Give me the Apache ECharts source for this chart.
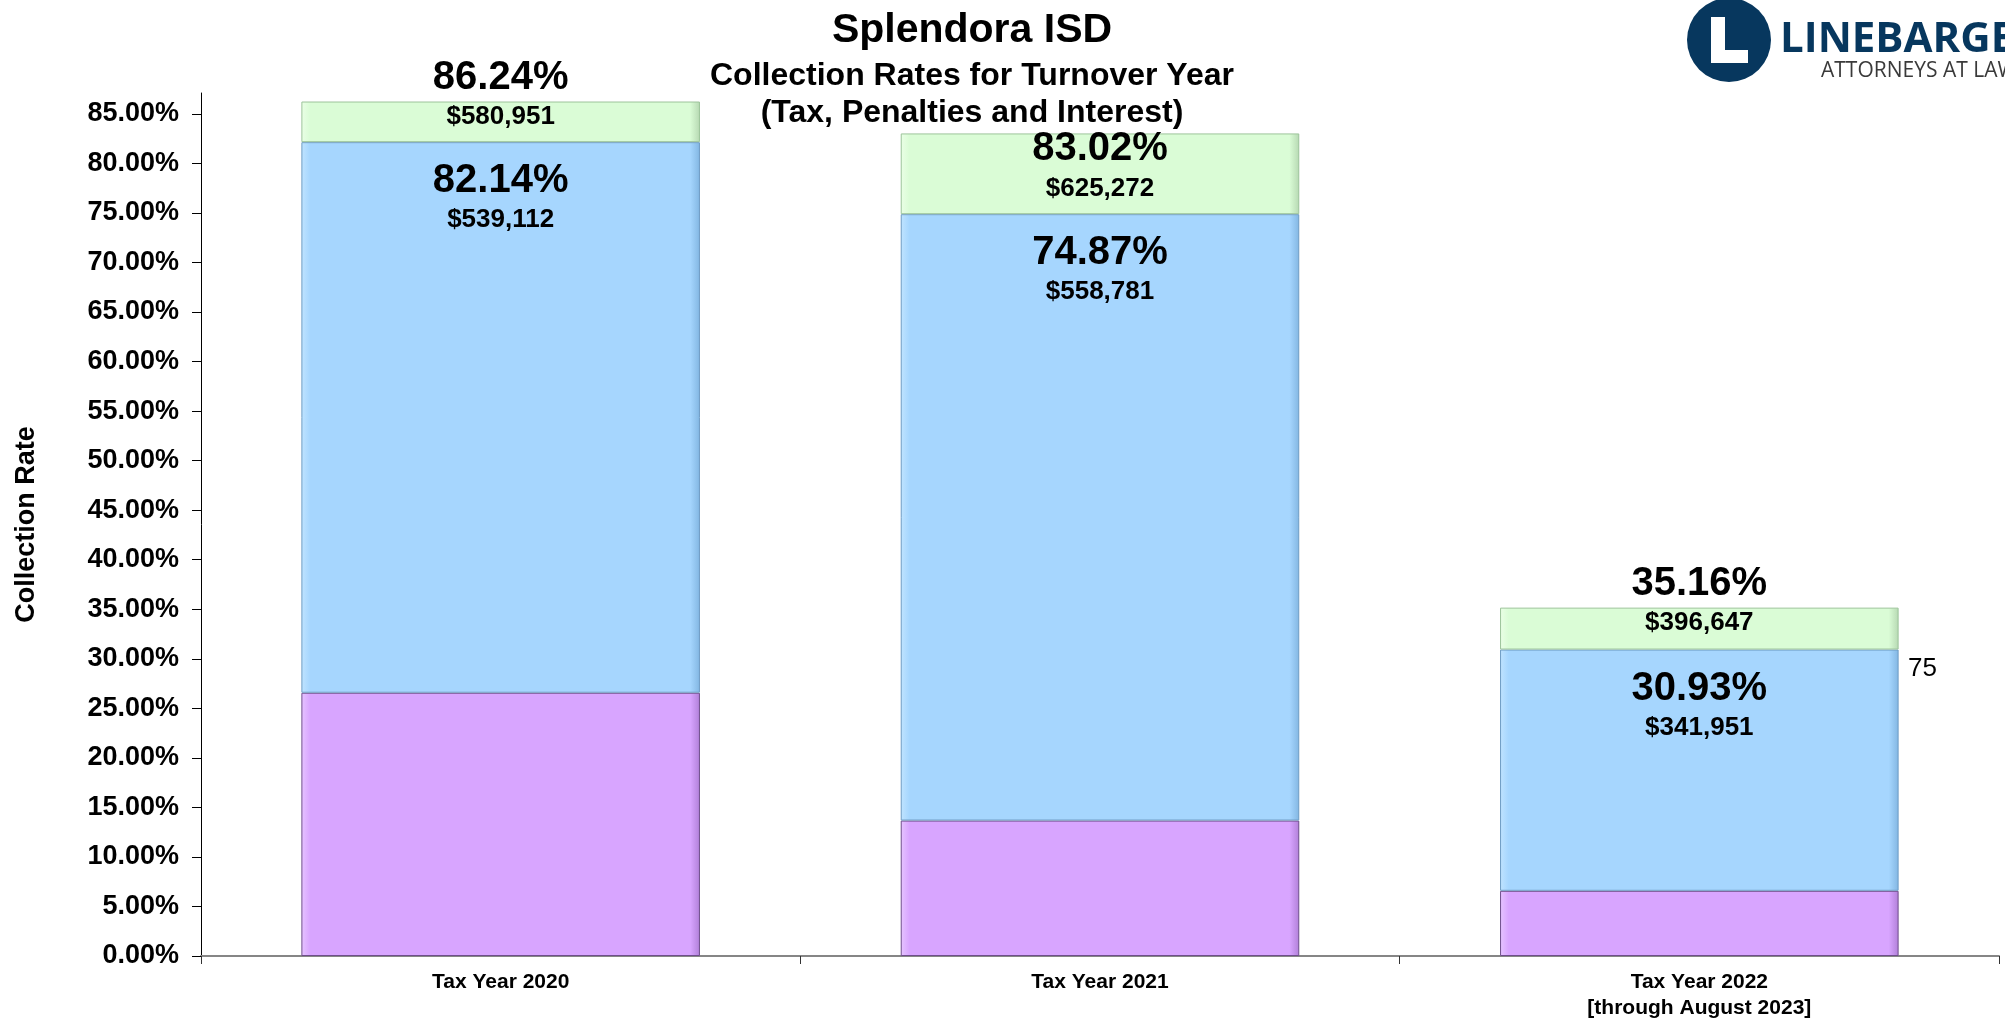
<!DOCTYPE html>
<html>
<head>
<meta charset="utf-8">
<title>Splendora ISD - Collection Rates</title>
<script src="https://cdn.jsdelivr.net/npm/echarts@6/dist/echarts.min.js"></script>
<style>
    html, body { margin: 0; padding: 0; background: #fff; }
    #chart { width: 2005px; height: 1020px; }
</style>
</head>
<body>
<div id="chart"></div>
<script>
// categories and values (percent of levy)
const categories = ['Tax Year 2020', 'Tax Year 2021', 'Tax Year 2022\n[through August 2023]'];
const priorRate = [26.57, 13.67, 6.58];          // purple base
const turnoverRate = [55.57, 61.20, 24.35];      // blue segment
const additionalRate = [4.10, 8.15, 4.23];       // green segment
const turnoverTotal = ['82.14%', '74.87%', '30.93%'];
const turnoverAmount = ['$539,112', '$558,781', '$341,951'];
const overallTotal = ['86.24%', '83.02%', '35.16%'];
const overallAmount = ['$580,951', '$625,272', '$396,647'];
const yTicks = [0, 5, 10, 15, 20, 25, 30, 35, 40, 45, 50, 55, 60, 65, 70, 75, 80, 85];

const FONT = '"Liberation Sans", Arial, sans-serif';

const chart = echarts.init(document.getElementById('chart'));

const rich = {
    p: { fontSize: 40, fontWeight: 'bold', lineHeight: 40, color: '#000', fontFamily: FONT },
    d: { fontSize: 26, fontWeight: 'bold', lineHeight: 38, color: '#000', fontFamily: FONT }
};

// fake bevel: lighter left edge, darker right edge
function bevel(light, base, dark) {
    return {
        type: 'linear', x: 0, y: 0, x2: 1, y2: 0,
        colorStops: [
            { offset: 0, color: light },
            { offset: 0.022, color: base },
            { offset: 0.975, color: base },
            { offset: 1, color: dark }
        ]
    };
}

const option = {
    animation: false,
    backgroundColor: '#fff',
    title: {
        text: 'Splendora ISD',
        subtext: 'Collection Rates for Turnover Year\n(Tax, Penalties and Interest)',
        left: 967,
        top: 6,
        textAlign: 'center',
        itemGap: 6,
        textStyle: { fontSize: 41, fontWeight: 'bold', color: '#000', lineHeight: 40, fontFamily: FONT },
        subtextStyle: { fontSize: 32, fontWeight: 'bold', color: '#000', lineHeight: 37, fontFamily: FONT, align: 'center' }
    },
    grid: {
        left: 201,
        right: 6,
        top: 93,
        bottom: 64,
        outerBoundsMode: 'none'
    },
    xAxis: {
        type: 'category',
        data: categories,
        axisLine: { lineStyle: { color: '#868686', width: 2 } },
        axisTick: { show: true, length: 8, lineStyle: { color: '#333', width: 1 } },
        axisLabel: {
            margin: 13,
            fontSize: 21,
            fontWeight: 'bold',
            color: '#000',
            lineHeight: 26,
            fontFamily: FONT
        }
    },
    yAxis: {
        type: 'value',
        min: 0,
        max: 87.1,
        name: 'Collection Rate',
        nameLocation: 'middle',
        nameRotate: 90,
        nameGap: 161,
        nameTextStyle: { fontSize: 27, fontWeight: 'bold', color: '#000', fontFamily: FONT },
        splitLine: { show: false },
        axisLine: { show: true, lineStyle: { color: '#000', width: 1 } },
        axisTick: { show: true, length: 9, customValues: yTicks, lineStyle: { color: '#000' } },
        axisLabel: {
            customValues: yTicks,
            margin: 22,
            fontSize: 27,
            fontWeight: 'bold',
            color: '#000',
            fontFamily: FONT,
            formatter: v => v.toFixed(2) + '%'
        }
    },
    series: [
        {
            name: 'Prior',
            type: 'bar',
            stack: 'rate',
            barWidth: '66.5%',
            data: priorRate,
            itemStyle: { color: bevel('#E6C4FF', '#D8A5FF', '#B07FD8'), borderColor: '#6F4E8C', borderWidth: 1 }
        },
        {
            name: 'Turnover',
            type: 'bar',
            stack: 'rate',
            data: turnoverRate,
            itemStyle: { color: bevel('#C0E4FF', '#A6D6FE', '#82B6E2'), borderColor: '#6E9CC4', borderWidth: 1 },
            label: {
                show: true,
                position: 'insideTop',
                distance: 19,
                rich: rich,
                formatter: p => '{p|' + turnoverTotal[p.dataIndex] + '}\n{d|' + turnoverAmount[p.dataIndex] + '}'
            }
        },
        {
            name: 'Additional',
            type: 'bar',
            stack: 'rate',
            data: additionalRate.map((v, i) => ({
                value: v,
                label: { distance: i === 1 ? -4 : -44 }
            })),
            itemStyle: { color: bevel('#EAFFE6', '#DAFCD6', '#B6D8B2'), borderColor: '#9CC49A', borderWidth: 1 },
            label: {
                show: true,
                position: 'insideTop',
                rich: rich,
                formatter: p => '{p|' + overallTotal[p.dataIndex] + '}\n{d|' + overallAmount[p.dataIndex] + '}'
            }
        }
    ],
    graphic: [
        // stray label on the right of the last bar
        {
            type: 'text',
            x: 1908,
            y: 656,
            style: { text: '75', fontSize: 26, fill: '#000', fontFamily: FONT }
        },
        // logo
        {
            type: 'circle',
            shape: { cx: 1729, cy: 40, r: 42 },
            style: { fill: '#07375E' }
        },
        {
            type: 'rect',
            shape: { x: 1711, y: 17, width: 14, height: 46 },
            style: { fill: '#fff' }
        },
        {
            type: 'rect',
            shape: { x: 1711, y: 50, width: 37, height: 13 },
            style: { fill: '#fff' }
        },
        {
            type: 'text',
            x: 1780,
            y: 19,
            style: { text: 'LINEBARGER', fontSize: 42, fontWeight: 'bold', fill: '#07375E', fontFamily: '"Open Sans", sans-serif' }
        },
        {
            type: 'text',
            x: 1821,
            y: 61,
            style: { text: 'ATTORNEYS AT LAW', fontSize: 21, fontWeight: 'normal', fill: '#3A3A3A', fontFamily: '"Open Sans", sans-serif' }
        }
    ]
};

chart.setOption(option);
</script>
</body>
</html>
